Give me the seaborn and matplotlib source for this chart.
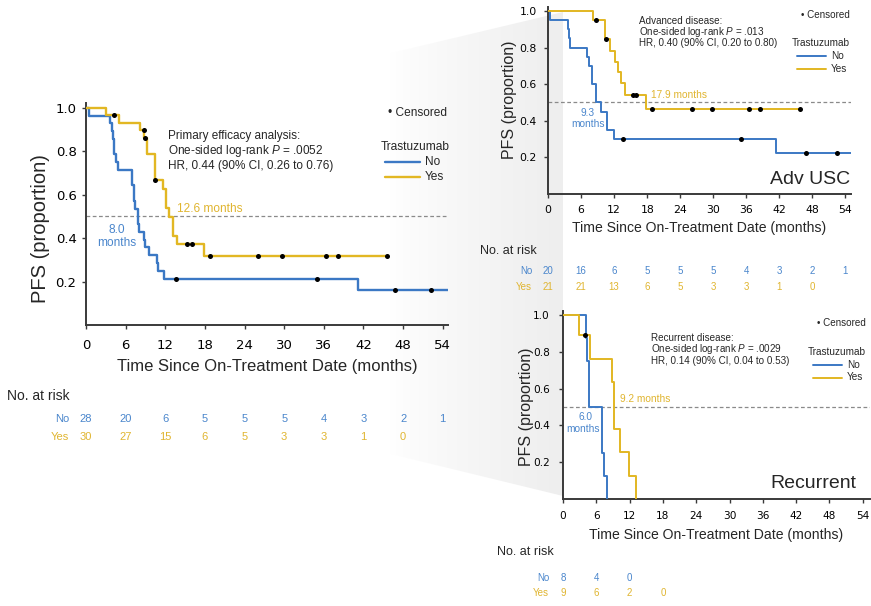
import numpy as np
import pandas as pd
import matplotlib
matplotlib.use("Agg")
import matplotlib.pyplot as plt
import seaborn as sns
from matplotlib.lines import Line2D
from matplotlib.patches import Polygon
from matplotlib.transforms import blended_transform_factory

# ---------------------------------------------------------------- data
arms = ["No", "Yes"]
time_ticks = [0, 6, 12, 18, 24, 30, 36, 42, 48, 54]
surv_ticks = [0.2, 0.4, 0.6, 0.8, 1.0]

# Primary efficacy population: step times (months) and PFS level from that time on
all_no_time = [0, 0.4, 3.6, 3.9, 4.1, 4.2, 4.3, 4.6, 4.8, 6.9, 7.0, 7.2, 7.3, 7.4,
               7.8, 7.9, 8.0, 8.8, 8.9, 9.6, 10.8, 10.9, 11.8, 41.2, 54.8]
all_no_surv = [1.0, 0.964, 0.929, 0.893, 0.857, 0.821, 0.786, 0.750, 0.714, 0.679,
               0.643, 0.607, 0.571, 0.536, 0.500, 0.464, 0.429, 0.393, 0.357, 0.321,
               0.286, 0.250, 0.214, 0.161, 0.161]
all_no_cens = [13.6, 35.0, 46.8, 52.2]
all_yes_time = [0, 3.0, 5.0, 8.2, 8.85, 9.2, 10.4, 11.6, 12.1, 12.6, 13.2, 13.7, 17.8, 45.6]
all_yes_surv = [1.0, 0.967, 0.932, 0.898, 0.862, 0.787, 0.668, 0.626, 0.537, 0.498,
                0.410, 0.374, 0.320, 0.320]
all_yes_cens = [4.2, 8.77, 8.97, 10.5, 15.3, 16.0, 18.8, 26.1, 29.6, 36.4, 38.2, 45.6]
all_no_risk = [28, 20, 6, 5, 5, 5, 4, 3, 2, 1]
all_yes_risk = [30, 27, 15, 6, 5, 3, 3, 1, 0]

# Advanced disease (Adv USC)
adv_no_time = [0, 0.3, 3.6, 3.9, 4.05, 7.07, 7.4, 7.9, 8.8, 9.55, 10.7, 11.9, 41.3, 55.0]
adv_no_surv = [1.0, 0.95, 0.90, 0.85, 0.80, 0.75, 0.70, 0.60, 0.50, 0.45, 0.35, 0.30,
               0.225, 0.225]
adv_no_cens = [13.7, 35.1, 46.9, 52.4]
adv_yes_time = [0, 8.1, 10.3, 11.2, 12.1, 12.7, 13.3, 13.9, 17.8, 45.8]
adv_yes_surv = [1.0, 0.952, 0.845, 0.783, 0.722, 0.664, 0.604, 0.540, 0.467, 0.467]
adv_yes_cens = [8.77, 10.46, 15.4, 16.0, 18.9, 26.2, 29.7, 36.5, 38.4, 45.8]
adv_no_risk = [20, 16, 6, 5, 5, 5, 4, 3, 2, 1]
adv_yes_risk = [21, 21, 13, 6, 5, 3, 3, 1, 0]

# Recurrent disease
rec_no_time = [0, 4.14, 4.3, 4.6, 4.75, 7.0, 7.1, 7.3, 7.9]
rec_no_surv = [1.0, 0.875, 0.75, 0.625, 0.5, 0.375, 0.25, 0.125, 0.0]
rec_no_cens = []
rec_yes_time = [0, 2.8, 4.9, 8.8, 9.1, 10.2, 11.9, 13.2]
rec_yes_surv = [1.0, 0.889, 0.762, 0.635, 0.381, 0.254, 0.127, 0.0]
rec_yes_cens = [4.0]
rec_no_risk = [8, 4, 0]
rec_yes_risk = [9, 6, 2, 0]

# ---------------------------------------------------------------- style
BLUE = "#3b78c4"
GOLD = "#e2b723"
BLUE_TXT = "#4a86cc"
GOLD_TXT = "#e0b530"
INK = "#3a3a3a"
PALETTE = {"No": BLUE, "Yes": GOLD}

sns.set_style("ticks")
plt.rcParams["font.family"] = ["Liberation Sans", "DejaVu Sans"]
plt.rcParams["mathtext.fontset"] = "custom"
plt.rcParams["mathtext.it"] = "Liberation Sans:italic"
plt.rcParams["mathtext.rm"] = "Liberation Sans"

W, H = 871, 606
fig = plt.figure(figsize=(W / 100, H / 100), dpi=100, facecolor="white")


def fx(x):
    return x / W


def fy(y):
    return 1 - y / H


def ftext(x, y, s, **kw):
    kw.setdefault("va", "center")
    return fig.text(fx(x), fy(y), s, **kw)


# ---------------------------------------------------------------- zoom wedge
bg = fig.add_axes([0, 0, 1, 1], zorder=-10)
bg.set_xlim(0, W)
bg.set_ylim(H, 0)
bg.axis("off")
xs = np.linspace(370, 563, 200)
alpha = np.clip((xs - 390) / (560 - 390), 0, 1) ** 0.8
grad = np.zeros((1, len(xs), 4))
grad[..., :3] = 0.935
grad[..., 3] = alpha
im = bg.imshow(grad, extent=(370, 563, 500, 8), aspect="auto", interpolation="bilinear")
wedge = Polygon([(370, 58), (563, 12), (563, 496), (370, 449)], closed=True,
                transform=bg.transData, facecolor="none", edgecolor="none")
bg.add_patch(wedge)
im.set_clip_path(wedge)


# ---------------------------------------------------------------- panels
def add_axes_px(left, top, right, bottom):
    return fig.add_axes([fx(left), fy(bottom), (right - left) / W, (bottom - top) / H])


def level_at(times, surv, t):
    i = np.searchsorted(np.asarray(times), t, side="right") - 1
    return surv[i]


def draw_panel(ax, no_t, no_s, no_c, yes_t, yes_s, yes_c, xmax, tick_size, pads,
               label_size, xlabel_size, lw):
    curves = pd.DataFrame({
        "time": no_t + yes_t,
        "surv": no_s + yes_s,
        "arm": ["No"] * len(no_t) + ["Yes"] * len(yes_t),
    })
    ax.axhline(0.5, color="#8a8a8a", lw=0.9, ls=(0, (3, 2)), zorder=1)
    sns.lineplot(data=curves, x="time", y="surv", hue="arm", palette=PALETTE,
                 estimator=None, sort=False, drawstyle="steps-post", linewidth=lw,
                 legend=False, ax=ax, zorder=3)
    cens = pd.DataFrame({
        "time": no_c + yes_c,
        "surv": [level_at(no_t, no_s, t) for t in no_c] + [level_at(yes_t, yes_s, t) for t in yes_c],
    })
    if len(cens):
        sns.scatterplot(data=cens, x="time", y="surv", color="black", s=13,
                        linewidth=0, legend=False, ax=ax, zorder=5)
    ax.set_xlim(0, xmax)
    ax.set_ylim(0, 1.02)
    ax.set_xticks(time_ticks)
    ax.set_yticks(surv_ticks)
    ax.set_yticklabels([f"{v:.1f}" for v in surv_ticks])
    ax.set_facecolor("none")
    sns.despine(ax=ax)
    for side in ("left", "bottom"):
        ax.spines[side].set_color(INK)
        ax.spines[side].set_linewidth(1.4)
    ax.tick_params(axis="x", length=3.2, width=1.0, color=INK, labelsize=tick_size,
                   pad=pads[0], labelcolor="black")
    ax.tick_params(axis="y", length=3.2, width=1.0, color=INK, labelsize=tick_size,
                   pad=pads[1], labelcolor="black")
    for lab in ax.get_xticklabels() + ax.get_yticklabels():
        lab.set_family(["DejaVu Sans"])
    ax.set_ylabel("PFS (proportion)", fontsize=label_size)
    ax.set_xlabel("Time Since On-Treatment Date (months)", fontsize=xlabel_size)
    ax.xaxis.label.set_va("center")
    ax.yaxis.label.set_va("center")
    ax.yaxis.label.set_ha("center")


def legend_block(x_title, y_title, x0, x1, y_no, y_yes, size, lw):
    ftext(x_title, y_title, "Trastuzumab", fontsize=size)
    for y, arm, col in ((y_no, "No", BLUE), (y_yes, "Yes", GOLD)):
        fig.add_artist(Line2D([fx(x0), fx(x1)], [fy(y), fy(y)], transform=fig.transFigure,
                              color=col, lw=lw))
        ftext(x1 + 5, y, arm, fontsize=size)


def risk_table(ax, x_head, y_head, x_arm, y_no, y_yes, no_vals, yes_vals, size, head_size):
    ftext(x_head, y_head, "No. at risk", fontsize=head_size)
    ftext(x_arm, y_no, "No", fontsize=size, color=BLUE_TXT, ha="right")
    ftext(x_arm, y_yes, "Yes", fontsize=size, color=GOLD_TXT, ha="right")
    tr = blended_transform_factory(ax.transData, fig.transFigure)
    for t, v in zip(time_ticks, no_vals):
        ax.text(t, fy(y_no), str(v), transform=tr, ha="center", va="center",
                fontsize=size, color=BLUE_TXT, clip_on=False)
    for t, v in zip(time_ticks, yes_vals):
        ax.text(t, fy(y_yes), str(v), transform=tr, ha="center", va="center",
                fontsize=size, color=GOLD_TXT, clip_on=False)


# -------- primary efficacy panel
ax_all = add_axes_px(86, 103.5, 448, 325)
draw_panel(ax_all, all_no_time, all_no_surv, all_no_cens, all_yes_time, all_yes_surv,
           all_yes_cens, 54.8, 9.5, (7, 3.6), 14.5, 12, 1.7)
ax_all.yaxis.set_label_coords((40 - 86) / 362, (325 - 229) / 221.5)
ax_all.xaxis.set_label_coords(0.5, (325 - 367) / 221.5)
ftext(447, 113, "\u2022 Censored", fontsize=8.6, ha="right")
ftext(168, 136, "Primary efficacy analysis:", fontsize=8.5)
ftext(168, 151, "One-sided log-rank $\\mathit{P}$ = .0052", fontsize=8.5)
ftext(168, 166, "HR, 0.44 (90% CI, 0.26 to 0.76)", fontsize=8.5)
legend_block(381, 147, 385, 420, 162, 177, 8.6, 1.7)
ftext(177, 209.5, "12.6 months", fontsize=8.6, color=GOLD_TXT)
ftext(117, 230, "8.0", fontsize=8.6, color=BLUE_TXT, ha="center")
ftext(117, 243, "months", fontsize=8.6, color=BLUE_TXT, ha="center")
risk_table(ax_all, 7, 396, 69, 419, 437, all_no_risk, all_yes_risk, 8, 10)

# -------- advanced disease panel
ax_adv = add_axes_px(548, 7.3, 851, 194)
draw_panel(ax_adv, adv_no_time, adv_no_surv, adv_no_cens, adv_yes_time, adv_yes_surv,
           adv_yes_cens, 55.0, 7.8, (4.8, 4.8), 11.5, 10.1, 1.4)
ax_adv.yaxis.set_label_coords((509 - 548) / 303, (194 - 100) / 186.7)
ax_adv.xaxis.set_label_coords(0.5, (194 - 228) / 186.7)
ftext(850, 15.5, "\u2022 Censored", fontsize=7.1, ha="right")
ftext(639, 21, "Advanced disease:", fontsize=7.1)
ftext(639, 32, "One-sided log-rank $\\mathit{P}$ = .013", fontsize=7.1)
ftext(639, 43, "HR, 0.40 (90% CI, 0.20 to 0.80)", fontsize=7.1)
legend_block(792, 43.5, 797, 826, 56, 69, 7.2, 1.4)
ftext(651, 95, "17.9 months", fontsize=7.3, color=GOLD_TXT)
ftext(588, 113, "9.3", fontsize=7.3, color=BLUE_TXT, ha="center")
ftext(588, 124, "months", fontsize=7.3, color=BLUE_TXT, ha="center")
ftext(850, 179.5, "Adv USC", fontsize=14, ha="right")
risk_table(ax_adv, 480, 251, 532, 271, 287, adv_no_risk, adv_yes_risk, 7, 9)

# -------- recurrent disease panel
ax_rec = add_axes_px(563, 311.3, 870, 499)
draw_panel(ax_rec, rec_no_time, rec_no_surv, rec_no_cens, rec_yes_time, rec_yes_surv,
           rec_yes_cens, 55.3, 7.6, (5.6, 6.2), 11.5, 10.1, 1.4)
ax_rec.yaxis.set_label_coords((526 - 563) / 307, (499 - 407) / 187.7)
ax_rec.xaxis.set_label_coords(0.5, (499 - 535) / 187.7)
ftext(866, 322.5, "\u2022 Censored", fontsize=7.1, ha="right")
ftext(651, 338, "Recurrent disease:", fontsize=7.1)
ftext(651, 349, "One-sided log-rank $\\mathit{P}$ = .0029", fontsize=7.1)
ftext(651, 360.5, "HR, 0.14 (90% CI, 0.04 to 0.53)", fontsize=7.1)
legend_block(808, 352, 813, 842, 364.5, 377.5, 7.2, 1.4)
ftext(620, 398.5, "9.2 months", fontsize=7.3, color=GOLD_TXT)
ftext(585, 417, "6.0", fontsize=7.3, color=BLUE_TXT, ha="center")
ftext(583, 429, "months", fontsize=7.3, color=BLUE_TXT, ha="center")
ftext(856, 483, "Recurrent", fontsize=14, ha="right")
risk_table(ax_rec, 497, 552, 549, 578, 593, rec_no_risk, rec_yes_risk, 7, 9)

fig.savefig("out.png", dpi=100, facecolor="white")
